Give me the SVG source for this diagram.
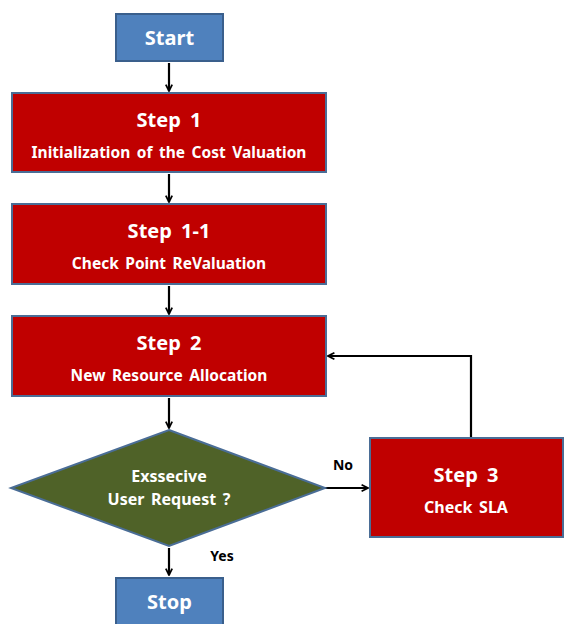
<svg xmlns="http://www.w3.org/2000/svg" width="567" height="624" viewBox="0 0 567 624">
<defs>
<marker id="ah" viewBox="0 0 10 10" refX="9" refY="5" markerWidth="8" markerHeight="8" markerUnits="userSpaceOnUse" orient="auto">
<path d="M1,1 L9,5 L1,9" fill="none" stroke="#000" stroke-width="2.2"/>
</marker>
<style>
.red{fill:#C00000;stroke:#4A6D96;stroke-width:2}
.blue{fill:#4F81BD;stroke:#3A5F8C;stroke-width:2}
.dia{fill:#4F6228;stroke:#4A6D96;stroke-width:2}
.t{font-family:"Noto Sans","Open Sans",sans-serif;font-weight:bold;fill:#fff;text-anchor:middle;word-spacing:2.5px}
.h{font-size:20px;word-spacing:4px}
.s{font-size:15.5px}
.d{font-size:16px}
.lbl{font-family:"Noto Sans","Open Sans",sans-serif;font-weight:bold;font-size:14px;fill:#000}
.c{fill:none;stroke:#000;stroke-width:2.2;marker-end:url(#ah)}
</style>
</defs>
<rect width="567" height="624" fill="#fff"/>
<g id="connectors">
<path class="c" d="M169,63 V91"/>
<path class="c" d="M169,174 V202"/>
<path class="c" d="M169,286 V314"/>
<path class="c" d="M169,398 V428"/>
<path class="c" d="M325,488 H368"/>
<path class="c" d="M169,548 V575"/>
<path class="c" d="M471,437 V356 H328"/>
<text class="lbl" x="343" y="470" text-anchor="middle">No</text>
<text class="lbl" x="222" y="561" text-anchor="middle">Yes</text>
</g>
<g id="start">
<rect class="blue" x="116" y="14" width="107" height="47"/>
<text class="t h" x="169.5" y="45">Start</text>
</g>
<g id="step1">
<rect class="red" x="12" y="93" width="314" height="79"/>
<text class="t h" x="169" y="127">Step 1</text>
<text class="t s" x="169" y="158">Initialization of the Cost Valuation</text>
</g>
<g id="step1-1">
<rect class="red" x="12" y="204" width="314" height="80"/>
<text class="t h" x="169" y="238">Step 1-1</text>
<text class="t s" x="169" y="269">Check Point ReValuation</text>
</g>
<g id="step2">
<rect class="red" x="12" y="316" width="314" height="80"/>
<text class="t h" x="169" y="350">Step 2</text>
<text class="t s" x="169" y="381">New Resource Allocation</text>
</g>
<g id="decision">
<polygon class="dia" points="169,430 325,488 169,546 11,488"/>
<text class="t d" x="169" y="482">Exssecive</text>
<text class="t d" x="169" y="505">User Request ?</text>
</g>
<g id="step3">
<rect class="red" x="370" y="438" width="193" height="99"/>
<text class="t h" x="466" y="482">Step 3</text>
<text class="t d" x="466" y="513">Check SLA</text>
</g>
<g id="stop">
<rect class="blue" x="116" y="578" width="107" height="50"/>
<text class="t h" x="169.5" y="609">Stop</text>
</g>
</svg>
